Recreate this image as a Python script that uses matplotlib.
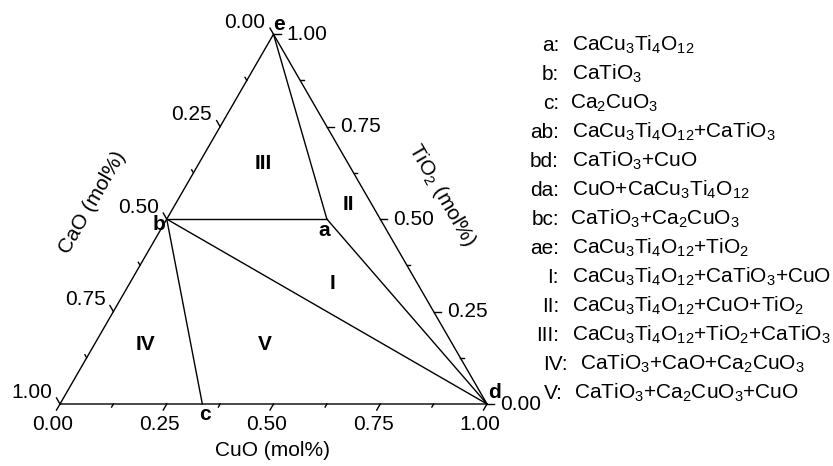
import numpy as np
import matplotlib.pyplot as plt

plt.rcParams['font.family'] = 'Liberation Sans'
plt.rcParams['mathtext.fontset'] = 'custom'
plt.rcParams['mathtext.rm'] = 'Liberation Sans'
plt.rcParams['mathtext.it'] = 'Liberation Sans:italic'
plt.rcParams['mathtext.bf'] = 'Liberation Sans:bold'

# phases, mole fractions (CaO, CuO, TiO2)
phase_names = ['a', 'b', 'c', 'd', 'e']
phase_cao = [0.125, 0.5, 2 / 3, 0.0, 0.0]
phase_cuo = [0.375, 0.0, 1 / 3, 1.0, 0.0]
phase_tio2 = [0.5, 0.5, 0.0, 0.0, 1.0]

# tie lines between phases
tie_lines = ['ea', 'ba', 'ad', 'bd', 'bc']

# phase field labels
region_names = ['I', 'II', 'III', 'IV', 'V']
region_cao = [0.20, 0.055, 0.20, 0.72, 0.44]
region_cuo = [0.475, 0.405, 0.15, 0.12, 0.40]
region_tio2 = [0.325, 0.54, 0.65, 0.16, 0.16]

major_ticks = [0.0, 0.25, 0.5, 0.75, 1.0]
minor_ticks = [0.125, 0.375, 0.625, 0.875]
tick_labels = ['0.00', '0.25', '0.50', '0.75', '1.00']

legend_keys = ['a', 'b', 'c', 'ab', 'bd', 'da', 'bc', 'ae', 'I', 'II', 'III', 'IV', 'V']
legend_text = [
    r'CaCu$_3$Ti$_4$O$_{12}$',
    r'CaTiO$_3$',
    r'Ca$_2$CuO$_3$',
    r'CaCu$_3$Ti$_4$O$_{12}$+CaTiO$_3$',
    r'CaTiO$_3$+CuO',
    r'CuO+CaCu$_3$Ti$_4$O$_{12}$',
    r'CaTiO$_3$+Ca$_2$CuO$_3$',
    r'CaCu$_3$Ti$_4$O$_{12}$+TiO$_2$',
    r'CaCu$_3$Ti$_4$O$_{12}$+CaTiO$_3$+CuO',
    r'CaCu$_3$Ti$_4$O$_{12}$+CuO+TiO$_2$',
    r'CaCu$_3$Ti$_4$O$_{12}$+TiO$_2$+CaTiO$_3$',
    r'CaTiO$_3$+CaO+Ca$_2$CuO$_3$',
    r'CaTiO$_3$+Ca$_2$CuO$_3$+CuO',
]


def tern(cao, cuo, tio2):
    cuo = np.asarray(cuo, dtype=float)
    tio2 = np.asarray(tio2, dtype=float)
    return cuo + tio2 / 2, tio2 * np.sqrt(3) / 2


# layout in pixels: triangle base 427 px, bottom-left corner at (60, 404)
W, H = 833, 466
X0, Y0, S = 60, 404, 427
px = 1 / S


def pix(x, y):
    return (x - X0) * px, (Y0 - y) * px


fig = plt.figure(figsize=(W / 100, H / 100), dpi=100)
ax = fig.add_axes([0, 0, 1, 1])
ax.set_xlim(-X0 * px, (W - X0) * px)
ax.set_ylim(-(H - Y0) * px, Y0 * px)
ax.axis('off')

lw = 1.0
fs = 15

# triangle frame
fx, fy = tern([1, 0, 0, 1], [0, 1, 0, 0], [0, 0, 1, 0])
ax.plot(fx, fy, color='black', lw=lw, solid_joinstyle='miter')

# tie lines
px_x, px_y = tern(phase_cao, phase_cuo, phase_tio2)
pos = {n: (px_x[i], px_y[i]) for i, n in enumerate(phase_names)}
for pair in tie_lines:
    p, q = pos[pair[0]], pos[pair[1]]
    ax.plot([p[0], q[0]], [p[1], q[1]], color='black', lw=lw)

# ticks: bottom CuO, left CaO, right TiO2
s3 = np.sqrt(3) / 2
axes_def = {
    'CuO': (lambda v: tern(1 - v, v, 0), (-0.5, -s3)),
    'CaO': (lambda v: tern(v, 0, 1 - v), (-0.5, s3)),
    'TiO2': (lambda v: tern(0, 1 - v, v), (1.0, 0.0)),
}
for name, (f, (dx, dy)) in axes_def.items():
    for vals, ln in ((major_ticks, 7), (minor_ticks, 3.5)):
        for v in vals:
            x, y = f(v)
            ax.plot([x, x + dx * ln * px], [y, y + dy * ln * px], color='black', lw=lw)
    for v, lab in zip(major_ticks, tick_labels):
        x, y = f(v)
        if name == 'CuO':
            ax.text(x - 7 * px, y - 21 * px, lab, ha='center', va='center', fontsize=fs)
        elif name == 'CaO':
            ax.text(x - 8 * px, y + 12 * px, lab, ha='right', va='center', fontsize=fs)
        else:
            ax.text(x + 13 * px, y, lab, ha='left', va='center', fontsize=fs)

# axis titles
ax.text(*pix(272, 451), 'CuO (mol%)', ha='center', va='center', fontsize=fs)
ax.text(*pix(92, 203), 'CaO (mol%)', ha='center', va='center', fontsize=fs,
        rotation=60, rotation_mode='anchor')
ax.text(*pix(442, 195), r'TiO$_2$ (mol%)', ha='center', va='center', fontsize=fs,
        rotation=-60, rotation_mode='anchor')

# phase point labels
label_off = {'a': (-3, 11), 'b': (-8, 5), 'c': (3, 11), 'd': (7, -11), 'e': (5, -10)}
for n in phase_names:
    x, y = pos[n]
    ox, oy = label_off[n]
    ax.text(x + ox * px, y - oy * px, n, ha='center', va='center',
            fontsize=fs, fontweight='bold')

# phase field labels
rx, ry = tern(region_cao, region_cuo, region_tio2)
for i, n in enumerate(region_names):
    ax.text(rx[i], ry[i], n, ha='center', va='center', fontsize=fs, fontweight='bold')

# legend listing
key_right = [559] * 11 + [568, 563]
text_left = [572, 572, 570, 572, 572, 572, 570, 572, 572, 572, 572, 580, 574]
for i, (k, t) in enumerate(zip(legend_keys, legend_text)):
    yb = 45 + 29 * i + 6
    ax.text(*pix(key_right[i], yb), k + ':', ha='right', va='baseline', fontsize=fs)
    ax.text(*pix(text_left[i], yb), t, ha='left', va='baseline', fontsize=fs)

fig.savefig('out.png', dpi=100)
